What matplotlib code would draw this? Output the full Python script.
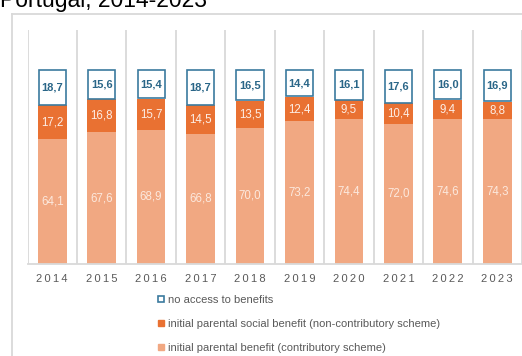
import matplotlib
matplotlib.use("Agg")
import matplotlib.pyplot as plt
from matplotlib.lines import Line2D
import numpy as np

plt.rcParams['font.family'] = ['Liberation Sans', 'DejaVu Sans']

years = ["2014", "2015", "2016", "2017", "2018", "2019", "2020", "2021", "2022", "2023"]
contributory = [64.1, 67.6, 68.9, 66.8, 70.0, 73.2, 74.4, 72.0, 74.6, 74.3]
non_contributory = [17.2, 16.8, 15.7, 14.5, 13.5, 12.4, 9.5, 10.4, 9.4, 8.8]
no_access = [18.7, 15.6, 15.4, 18.7, 16.5, 14.4, 16.1, 17.6, 16.0, 16.9]

series_names = ["no access to benefits",
                "initial parental social benefit (non-contributory scheme)",
                "initial parental benefit (contributory scheme)"]

c_light = "#f1a882"
c_dark = "#e97132"
c_blue = "#3b7a9e"
c_blue_txt = "#2a6688"
grid_c = "#d9d9d9"

fig = plt.figure(figsize=(5.22, 3.56), dpi=100)
ax = fig.add_axes([27.5/522, 1-264/356, 1-27.5/522, (264-30)/356])

x = np.arange(len(years))
w = 0.58
c = np.array(contributory)
n = np.array(non_contributory)
a = np.array(no_access)

ax.bar(x, c, w, color=c_light, zorder=2)
ax.bar(x, n, w, bottom=c, color=c_dark, zorder=2)
ax.bar(x, a - 0.8, w - 0.03, bottom=c + n + 0.4, color="white", edgecolor=c_blue, linewidth=1.2, zorder=2)

def fmt(v):
    return f"{v:.1f}".replace(".", ",")

for i in range(len(years)):
    ax.text(x[i], c[i]/2, fmt(c[i]), ha="center", va="center", color="#fce8dd", fontsize=8.3, zorder=3)
    ax.text(x[i], c[i] + n[i]/2, fmt(n[i]), ha="center", va="center", color="#fdeee6", fontsize=8.3, zorder=3)
    ax.text(x[i], c[i] + n[i] + a[i]/2, fmt(a[i]), ha="center", va="center", color=c_blue_txt, fontsize=8, fontweight="bold", zorder=3)

ax.set_xlim(-0.5, len(years) - 0.5)
ax.set_ylim(0, 120)
for xv in np.arange(len(years) + 1) - 0.5:
    ax.axvline(xv, color=grid_c, linewidth=1.3, zorder=1)
for s in ["top", "right", "left"]:
    ax.spines[s].set_visible(False)
ax.spines["bottom"].set_color(grid_c)
ax.spines["bottom"].set_linewidth(1.3)
ax.set_yticks([])
ax.set_xticks(x)
ax.set_xticklabels(["\u2009".join(y) for y in years], fontsize=8, color="#595959")
ax.tick_params(axis="x", length=0, pad=7)

# outer frame
fig.add_artist(Line2D([12/522, 12/522], [0, 1-14/356], transform=fig.transFigure, color=grid_c, linewidth=1.3))
fig.add_artist(Line2D([12/522, 1], [1-14/356, 1-14/356], transform=fig.transFigure, color=grid_c, linewidth=1.3))

fig.text(0.0, 1-7/356, "Portugal, 2014-2023", fontsize=16.5, color="#000000", ha="left", va="baseline")

handles = [
    Line2D([], [], marker="s", linestyle="none", markersize=5, markerfacecolor="white", markeredgecolor=c_blue, markeredgewidth=1.2),
    Line2D([], [], marker="s", linestyle="none", markersize=5, markerfacecolor=c_dark, markeredgecolor=c_dark),
    Line2D([], [], marker="s", linestyle="none", markersize=5, markerfacecolor=c_light, markeredgecolor=c_light),
]
fig.legend(handles, series_names, loc="upper left", bbox_to_anchor=(158/522, 1-295/356),
           frameon=False, fontsize=8, labelcolor="#595959", handlelength=0.6, handletextpad=0.3,
           labelspacing=1.25, borderpad=0, borderaxespad=0)

fig.savefig("out.png", dpi=100)
